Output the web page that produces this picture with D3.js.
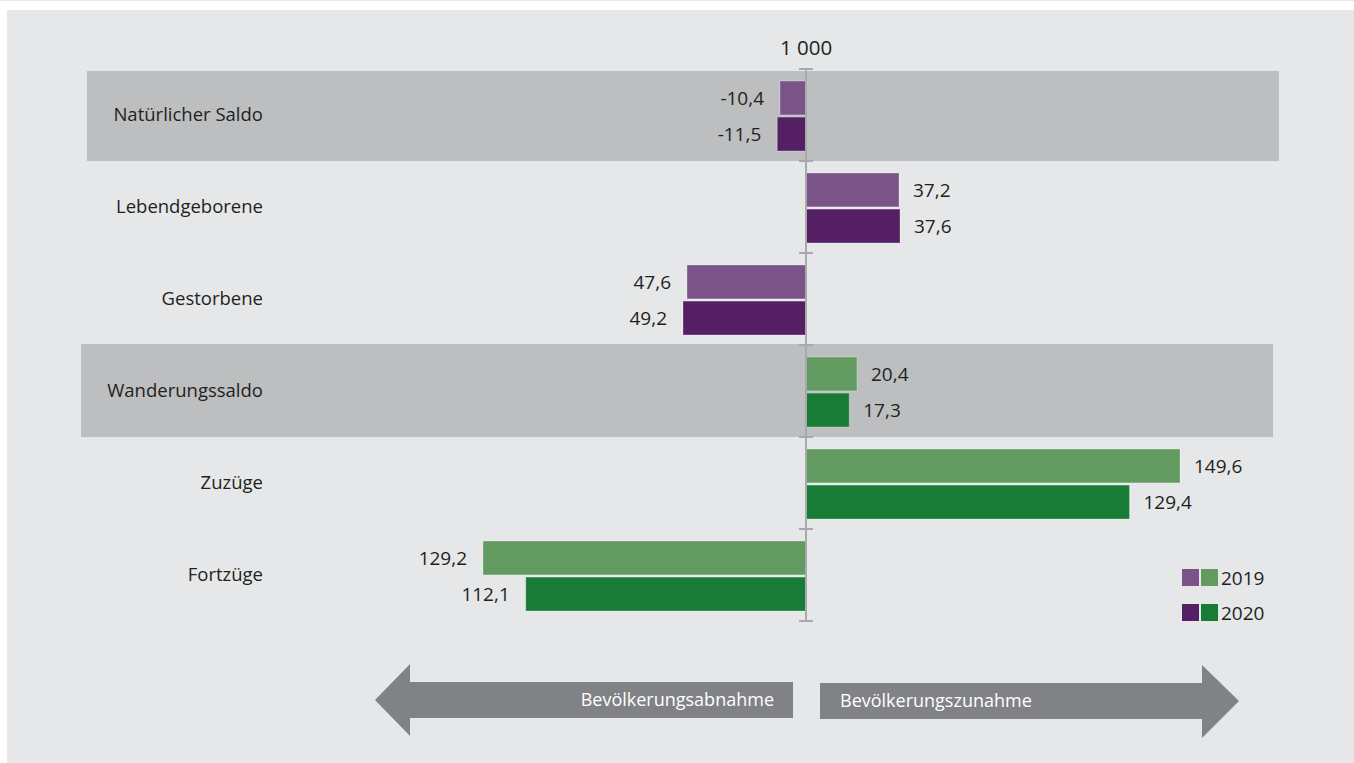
<!DOCTYPE html>
<html>
<head>
<meta charset="utf-8">
<script src="https://cdn.jsdelivr.net/npm/d3@7"></script>
<style>
  html, body { margin: 0; padding: 0; background: #ffffff; }
  svg { display: block; }
  text { font-family: "Open Sans", "Noto Sans", sans-serif; fill: #231f20; }
</style>
</head>
<body>
<svg id="chart" width="1354" height="763"></svg>
<script>
// ---- data ----
const categories = ["Natürlicher Saldo", "Lebendgeborene", "Gestorbene", "Wanderungssaldo", "Zuzüge", "Fortzüge"];
const years = ["2019", "2020"];
const values2019 = [-10.4, 37.2, -47.6, 20.4, 149.6, -129.2];
const values2020 = [-11.5, 37.6, -49.2, 17.3, 129.4, -112.1];
const labels2019 = ["-10,4", "37,2", "47,6", "20,4", "149,6", "129,2"];
const labels2020 = ["-11,5", "37,6", "49,2", "17,3", "129,4", "112,1"];
const highlighted = ["Natürlicher Saldo", "Wanderungssaldo"];
const groupOf = ["nat", "nat", "nat", "mig", "mig", "mig"];
const axisTitle = "1 000";
const arrowLeftText = "Bevölkerungsabnahme";
const arrowRightText = "Bevölkerungszunahme";

const colors = {
  nat: { "2019": "#7b5389", "2020": "#551f63" },
  mig: { "2019": "#639a5f", "2020": "#187c37" }
};

const svg = d3.select("#chart");
const W = 1354, H = 763;

// background
svg.append("rect").attr("x", 0).attr("y", 0).attr("width", W).attr("height", 1).attr("fill", "#e6e7e9");
svg.append("rect").attr("x", 7).attr("y", 10).attr("width", W - 7).attr("height", H - 10).attr("fill", "#e6e7e9");

const x = d3.scaleLinear().domain([-150, 150]).range([431, 1181]);
const y = d3.scaleBand().domain(categories).range([69, 621]).padding(0);
const sub = d3.scaleBand().domain(years).range([12, 82]).paddingInner(0.06);

// highlight bands
const bandShift = { "Natürlicher Saldo": 0, "Wanderungssaldo": -6 };
svg.selectAll("rect.band").data(highlighted).enter().append("rect")
  .attr("class", "band")
  .attr("x", d => 87 + bandShift[d])
  .attr("y", d => y(d) + (d === "Wanderungssaldo" ? -1 : 2))
  .attr("width", 1192)
  .attr("height", d => d === "Wanderungssaldo" ? 93 : 90)
  .attr("fill", "#bcbec0");

// category labels
svg.selectAll("text.cat").data(categories).enter().append("text")
  .attr("class", "cat")
  .attr("x", 263)
  .attr("y", d => y(d) + y.bandwidth() / 2 + 6)
  .attr("text-anchor", "end")
  .attr("font-size", 18.5)
  .text(d => d);

// bars
const rows = [];
categories.forEach((c, i) => {
  rows.push({ cat: c, year: "2019", v: values2019[i], label: labels2019[i], g: groupOf[i] });
  rows.push({ cat: c, year: "2020", v: values2020[i], label: labels2020[i], g: groupOf[i] });
});

svg.selectAll("rect.bar").data(rows).enter().append("rect")
  .attr("class", "bar")
  .attr("x", d => Math.min(x(0), x(d.v)))
  .attr("y", d => y(d.cat) + sub(d.year))
  .attr("width", d => Math.abs(x(d.v) - x(0)))
  .attr("height", sub.bandwidth())
  .attr("fill", d => colors[d.g][d.year])
  .attr("stroke", "rgba(255,255,255,0.3)")
  .attr("stroke-width", 1);

svg.selectAll("text.val").data(rows).enter().append("text")
  .attr("class", "val")
  .attr("x", d => d.v >= 0 ? x(d.v) + 14 : x(d.v) - 16)
  .attr("y", d => y(d.cat) + sub(d.year) + sub.bandwidth() / 2 + 7)
  .attr("text-anchor", d => d.v >= 0 ? "start" : "end")
  .attr("font-size", 19)
  .text(d => d.label);

// axis
const axisG = svg.append("g");
axisG.append("line")
  .attr("x1", x(0)).attr("x2", x(0))
  .attr("y1", y.range()[0]).attr("y2", y.range()[1])
  .attr("stroke", "#a7a9ac").attr("stroke-width", 2);
const tickYs = categories.map(c => y(c)).concat([y.range()[1]]);
axisG.selectAll("line.tick").data(tickYs).enter().append("line")
  .attr("x1", x(0) - 7).attr("x2", x(0) + 7)
  .attr("y1", d => d).attr("y2", d => d)
  .attr("stroke", "#a7a9ac").attr("stroke-width", 2);

svg.append("text")
  .attr("x", x(0)).attr("y", 55)
  .attr("text-anchor", "middle")
  .attr("font-size", 20.5)
  .text(axisTitle);

// legend
const legendG = svg.append("g");
years.forEach((yr, i) => {
  const ly = 569 + i * 35;
  legendG.append("rect").attr("x", 1182).attr("y", ly).attr("width", 17).attr("height", 17).attr("fill", colors.nat[yr]);
  legendG.append("rect").attr("x", 1201).attr("y", ly).attr("width", 17).attr("height", 17).attr("fill", colors.mig[yr]);
  legendG.append("text").attr("x", 1221).attr("y", ly + 16).attr("font-size", 19).text(yr);
});

// arrows
const arrowColor = "#808285";
svg.append("path")
  .attr("d", "M375,700 L410,664 L410,682 L793,682 L793,718 L410,718 L410,736 Z")
  .attr("fill", arrowColor);
svg.append("path")
  .attr("d", "M820,683 L1202,683 L1202,665 L1239,701 L1202,738 L1202,719 L820,719 Z")
  .attr("fill", arrowColor);
svg.append("text").attr("x", 774).attr("y", 706).attr("text-anchor", "end")
  .attr("font-size", 18).style("fill", "#ffffff").text(arrowLeftText);
svg.append("text").attr("x", 840).attr("y", 707).attr("text-anchor", "start")
  .attr("font-size", 18).style("fill", "#ffffff").text(arrowRightText);
</script>
</body>
</html>
